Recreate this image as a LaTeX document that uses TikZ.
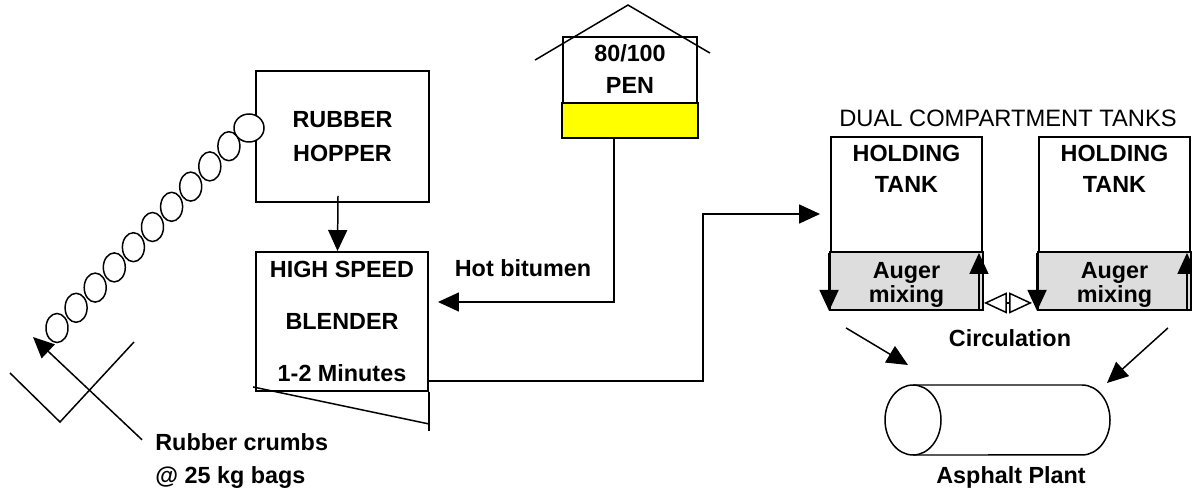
\documentclass[tikz,border=0pt]{standalone}
\usepackage{fontspec}
\setmainfont{Liberation Sans}
\usepackage{tikz}
\usetikzlibrary{
  arrows.meta,
  positioning,
  calc,
}
\definecolor{penYellow}{HTML}{FFFF00}
\definecolor{augerGrey}{HTML}{DDDDDD}

\tikzset{
  unitbox/.style={draw, line width=1.1pt, inner sep=0pt},
  pipe/.style={line width=0.85pt},
  flow/.style={pipe, -{Triangle[length=0.42cm,width=0.38cm]}},
  boldlbl/.style={font=\bfseries\fontsize{13.3}{16}\selectfont, align=center, inner sep=0pt},
}

\begin{document}
\begin{tikzpicture}[x=0.02cm, y=-0.02cm]
\useasboundingbox (0,0) rectangle (1192,489);

% rubber hopper and blender
\node[unitbox, minimum width=3.46cm, minimum height=2.62cm, boldlbl,
      font=\bfseries\fontsize{13.3}{19.3}\selectfont]
  (hopper) at (342.5,136.5) {RUBBER\\HOPPER};
\node[unitbox, minimum width=3.44cm, minimum height=2.78cm, boldlbl,
      font=\bfseries\fontsize{13.3}{29.5}\selectfont]
  (blender) at (342,321.5) {HIGH SPEED\\BLENDER\\1-2 Minutes};
\draw[pipe] ($(blender.south west)+(-2,-5)$) -- ($(blender.south east)+(0,32)$);
\draw[pipe] (blender.south east) -- ++(0,39);
\draw[flow] ([xshift=-0.09cm,yshift=0.14cm]hopper.south) -- ([xshift=-0.09cm]blender.north);

% crumb chain from the bags
\foreach \i in {0,...,9}
  \draw[line width=0.85pt, fill=white] ({57+\i*19.1},{328-\i*20.2})
    ellipse [x radius=0.22cm, y radius=0.29cm];
\draw[line width=0.85pt, fill=white] (249,128) ellipse [x radius=0.3cm, y radius=0.28cm];
\draw[pipe] (10,373) -- (60,422) -- (134,342);
\node[boldlbl, anchor=west, align=left, font=\bfseries\fontsize{13.3}{19.3}\selectfont]
  (crumbs) at (155,461) {Rubber crumbs\\@ 25 kg bags};
\coordinate (bagtip) at (33,337);
\draw[flow] ($(crumbs.north west)+(-13,7)$) -- (bagtip);

% bitumen tank
\node[unitbox, minimum width=2.68cm, minimum height=2cm] (pen) at (630,87) {};
\draw[line width=1.1pt, fill=penYellow] (pen.south west) rectangle ($(pen.east)+(0,16)$);
\node[boldlbl, font=\bfseries\fontsize{13.3}{18.7}\selectfont] (pentxt) at (630,69) {80/100\\PEN};
\draw[pipe] ($(pen.north west)+(-27,24)$) -- ($(pen.north)+(-2,-31)$) -- ($(pen.north east)+(12,17)$);
\draw[flow] ([xshift=-0.32cm]pen.south) |- ($(blender.east)+(9,-19.5)$);
\node[boldlbl] (hotlbl) at (523,268) {Hot bitumen};

% dual compartment tanks
\node[inner sep=0pt, font=\fontsize{13.5}{16}\selectfont] (dualtxt) at (1008,118.5) {DUAL COMPARTMENT TANKS};
\foreach \tk/\cx in {tankA/906.5, tankB/1114.5}
{
  \node[unitbox, minimum width=3.02cm, minimum height=3.44cm] (\tk) at (\cx,223) {};
  \draw[line width=1.1pt, fill=augerGrey] (\tk.south west) rectangle ($(\tk.east)+(0,29)$);
  \node[boldlbl, font=\bfseries\fontsize{13.3}{17.6}\selectfont] (\tk-hold) at (\cx,168.5) {HOLDING\\TANK};
  \node[boldlbl, font=\bfseries\fontsize{13.3}{10.8}\selectfont] (\tk-auger) at (\cx,285) {Auger\\mixing};
  \draw[flow] ($(\tk.south west)+(-1,-57)$) -- ($(\tk.south west)+(-1,1)$);
  \draw[flow] ($(\tk.south east)+(-4,0)$) -- ($(\tk.south east)+(-4,-57)$);
}
\coordinate (riser) at (703,214);
\draw[flow] ([yshift=-1.19cm]blender.east) -| (riser) -- ($(tankA.west |- riser)+(-10,0)$);
\draw[pipe, {Triangle[open,length=0.46cm,width=0.42cm]}-{Triangle[open,length=0.46cm,width=0.42cm]}]
  ($(tankA.south east)+(1,-7)$) -- ($(tankB.south west)+(-6,-7)$);
\node[boldlbl] (circ) at (1010,338) {Circulation};

% asphalt plant
\draw[line width=0.85pt] (913,385) -- (1082,385)
  arc [start angle=90, end angle=-90, x radius=0.56cm, y radius=0.7cm] -- (913,455);
\draw[line width=0.85pt] (913,420) ellipse [x radius=0.56cm, y radius=0.7cm];
\node[boldlbl] (plantlbl) at (1011,477) {Asphalt Plant};
\coordinate (plantA) at (908,365);
\coordinate (plantB) at (1107,383);
\draw[flow] ($(tankA.south west)+(16,18)$) -- (plantA);
\draw[flow] ($(tankB.south east)+(-23,18)$) -- (plantB);

\end{tikzpicture}
\end{document}
